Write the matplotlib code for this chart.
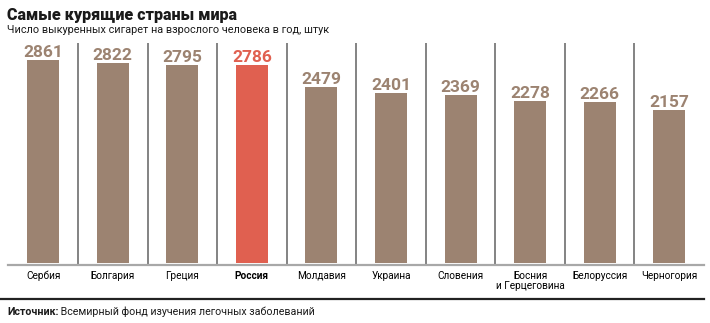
import matplotlib
matplotlib.use("Agg")
import matplotlib.pyplot as plt
from matplotlib.lines import Line2D

plt.rcParams['font.family'] = ['Roboto', 'DejaVu Sans']

countries = ["Сербия", "Болгария", "Греция", "Россия", "Молдавия", "Украина",
             "Словения", "Босния\nи Герцеговина", "Белоруссия", "Черногория"]
values = [2861, 2822, 2795, 2786, 2479, 2401, 2369, 2278, 2266, 2157]
highlight = "Россия"

title = "Самые курящие страны мира"
subtitle = "Число выкуренных сигарет на взрослого человека в год, штук"
source_bold = "Источник:"
source_rest = " Всемирный фонд изучения легочных заболеваний"

brown = "#9c8371"
red = "#e06050"

W, H = 710, 323
fig = plt.figure(figsize=(W / 100, H / 100), dpi=100)

left_px, right_px = 8.4, 704
top_px, bottom_px = 43, 265
ax = fig.add_axes([left_px / W, 1 - bottom_px / H,
                   (right_px - left_px) / W, (bottom_px - top_px) / H])

n = len(values)
x = list(range(n))
colors = [red if c == highlight else brown for c in countries]
ax.bar(x, values, width=0.46, color=colors, zorder=2)

ax.set_xlim(-0.5, n - 0.5)
ax.set_ylim(-28, 3100)

for i in range(n - 1):
    ax.axvline(i + 0.5, color="#6e6e6e", lw=1.2, zorder=1)

for xi, v, c in zip(x, values, colors):
    ax.annotate(f"{v}", xy=(xi, v), xytext=(0, 2.2), textcoords="offset points",
                ha="center", va="baseline", fontsize=12.5, fontweight="bold",
                color=c)

for s in ["top", "right", "left"]:
    ax.spines[s].set_visible(False)
ax.spines["bottom"].set_color("#a8a8a8")
ax.spines["bottom"].set_linewidth(1.6)
ax.set_yticks([])
ax.set_xticks(x)
ax.set_xticklabels(countries, fontsize=7.2, linespacing=1.0)
ax.tick_params(axis="x", length=0, pad=4)
for lbl, c in zip(ax.get_xticklabels(), countries):
    if c == highlight:
        lbl.set_fontweight("bold")

fig.text(7 / W, 1 - 20 / H, title, fontsize=11.5, fontweight="heavy",
         color="#1a1a1a", va="baseline", ha="left")
fig.text(7 / W, 1 - 33 / H, subtitle, fontsize=7.8, color="#1a1a1a",
         va="baseline", ha="left")

fig.add_artist(Line2D([0, 704 / W], [1 - 299 / H, 1 - 299 / H],
                      transform=fig.transFigure, color="#222222", lw=1.6))

t1 = fig.text(7 / W, 1 - 315 / H, source_bold, fontsize=7.7, fontweight="bold",
              color="#1a1a1a", va="baseline", ha="left")
ax.annotate(source_rest, xy=(1, 0), xycoords=t1, fontsize=7.7,
            color="#1a1a1a", va="bottom", ha="left", annotation_clip=False)

fig.savefig("out.png", dpi=100)
